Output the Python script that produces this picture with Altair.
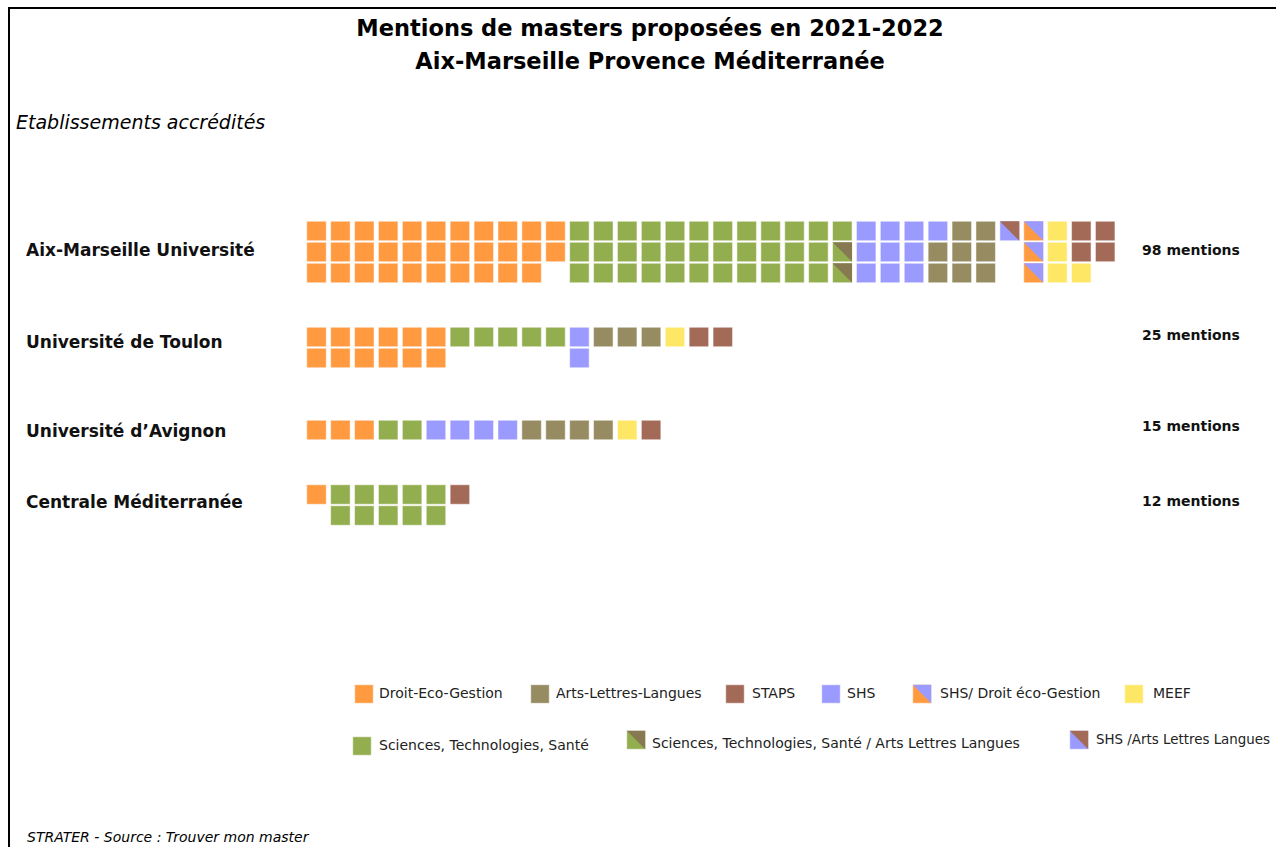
import altair as alt
import pandas as pd

W, H = 1276, 847

# ---------------- data ----------------
TITLE_LINES = ["Mentions de masters proposées en 2021-2022",
               "Aix-Marseille Provence Méditerranée"]
SUBTITLE = "Etablissements accrédités"
FOOTER = "STRATER - Source : Trouver mon master"

INSTITUTIONS = ["Aix-Marseille Université", "Université de Toulon",
                "Université d’Avignon", "Centrale Méditerranée"]
MENTIONS = [98, 25, 15, 12]

# each string = one column of the waffle, top to bottom ('.' = empty)
AMU_COLUMNS = (["DDD"] * 10 + ["DD."] + ["SSS"] * 11 + ["SXX"] + ["HHH"] * 3
               + ["HAA", "AAA", "AAA", "Z..", "QQQ", "MMM", "PPM", "PP."])
TOULON_COLUMNS = ["DD"] * 6 + ["S."] * 5 + ["HH"] + ["A."] * 3 + ["M.", "P.", "P."]
AVIGNON_COLUMNS = ["D", "D", "D", "S", "S", "H", "H", "H", "H", "A", "A", "A", "A", "M", "P"]
CENTRALE_COLUMNS = ["D.", "SS", "SS", "SS", "SS", "SS", "P."]
COLUMNS = [AMU_COLUMNS, TOULON_COLUMNS, AVIGNON_COLUMNS, CENTRALE_COLUMNS]

CODES = ["D", "A", "P", "H", "Q", "M", "S", "X", "Z"]
CATEGORY_LABELS = ["Droit-Eco-Gestion", "Arts-Lettres-Langues", "STAPS", "SHS",
                   "SHS/ Droit éco-Gestion", "MEEF",
                   "Sciences, Technologies, Santé",
                   "Sciences, Technologies, Santé /  Arts Lettres Langues",
                   "SHS /Arts Lettres Langues"]

# ---------------- styles ----------------
ORANGE, OLIVE, BROWN, BLUE = "#FF9A40", "#968B61", "#A36A58", "#9B9BFF"
YELLOW, GREEN, DARK_OLIVE = "#FFE766", "#93AE4E", "#877A52"
LOWER = [ORANGE, OLIVE, BROWN, BLUE, ORANGE, YELLOW, GREEN, GREEN, BLUE]
UPPER = [ORANGE, OLIVE, BROWN, BLUE, BLUE, YELLOW, GREEN, DARK_OLIVE, BROWN]
FONT = "DejaVu Sans"
TEXT_COLOR = "#111111"

# ---------------- layout ----------------
X0, XS = 316.5, 23.9      # pixel centre of column 0, column step
Y0, YS = 231.0, 21.0      # pixel centre of row 0, row step
ROW_BASE_PX = [231, 337, 430, 494.5]
LABEL_X = 26
LABEL_Y = [251, 343, 432, 503]
MENT_X = 1191
MENT_Y = [251, 336, 427, 502]
LEG_SWATCH_X = [364, 540, 735, 831, 922, 1134, 362, 636, 1079]
LEG_SWATCH_Y = [694, 694, 694, 694, 694, 694, 746, 740, 740]
LEG_TEXT_X = [379, 556, 752, 847, 940, 1153, 379, 652, 1096]
LEG_TEXT_Y = [694, 694, 694, 694, 694, 694, 746, 744, 740]
LEG_FONT_SIZE = [14, 14, 14, 14, 14, 14, 14, 14, 13.4]
CELL_SIZE = 380
SWATCH_SIZE = 342


def ux(px):
    return (px - X0) / XS


def uy(py):
    return (py - Y0) / YS


XSCALE = alt.Scale(domain=[ux(0), ux(W)], range=[0, W], nice=False, zero=False)
YSCALE = alt.Scale(domain=[uy(0), uy(H)], range=[0, H], nice=False, zero=False)

cells = []
for i, cols in enumerate(COLUMNS):
    base = uy(ROW_BASE_PX[i])
    for c, col in enumerate(cols):
        for r, code in enumerate(col):
            if code == ".":
                continue
            k = CODES.index(code)
            cells.append({"x": c, "y": base + r, "lower": LOWER[k],
                          "upper": UPPER[k], "size": CELL_SIZE})
for k in range(len(CODES)):
    cells.append({"x": ux(LEG_SWATCH_X[k]), "y": uy(LEG_SWATCH_Y[k]),
                  "lower": LOWER[k], "upper": UPPER[k], "size": SWATCH_SIZE})
cells_df = pd.DataFrame(cells)
split_df = cells_df[cells_df["lower"] != cells_df["upper"]]

X = lambda f: alt.X(f, type="quantitative", scale=XSCALE, axis=None)
Y = lambda f: alt.Y(f, type="quantitative", scale=YSCALE, axis=None)

squares = alt.Chart(cells_df).mark_point(
    shape="square", filled=True, opacity=1, stroke="white", strokeWidth=1,
    strokeOpacity=0.5
).encode(x=X("x"), y=Y("y"), fill=alt.Fill("lower:N", scale=None),
         size=alt.Size("size:Q", scale=None))

triangles = alt.Chart(split_df).mark_point(
    shape="M-1,-1L1,-1L1,1Z", filled=True, opacity=1, strokeWidth=0
).encode(x=X("x"), y=Y("y"), fill=alt.Fill("upper:N", scale=None),
         size=alt.Size("size:Q", scale=None))

inst_df = pd.DataFrame({"label": INSTITUTIONS,
                        "y": [uy(v) for v in LABEL_Y],
                        "m": [f"{n} mentions" for n in MENTIONS],
                        "my": [uy(v) for v in MENT_Y]})
inst_labels = alt.Chart(inst_df).mark_text(
    align="left", baseline="middle", font=FONT, fontSize=17, fontWeight="bold",
    color=TEXT_COLOR
).encode(x=alt.value(LABEL_X), y=Y("y"), text="label:N")
ment_labels = alt.Chart(inst_df).mark_text(
    align="center", baseline="middle", font=FONT, fontSize=14, fontWeight="bold",
    color=TEXT_COLOR
).encode(x=alt.value(MENT_X), y=Y("my"), text="m:N")

leg_df = pd.DataFrame({"t": CATEGORY_LABELS,
                       "x": [ux(v) for v in LEG_TEXT_X],
                       "y": [uy(v) for v in LEG_TEXT_Y],
                       "fs": LEG_FONT_SIZE})
leg_text = alt.Chart(leg_df).mark_text(
    align="left", baseline="middle", font=FONT, color="#222222"
).encode(x=X("x"), y=Y("y"), text="t:N", size=alt.Size("fs:Q", scale=None))

title_df = pd.DataFrame({"t": TITLE_LINES, "y": [uy(29), uy(62)]})
title = alt.Chart(title_df).mark_text(
    align="center", baseline="middle", font=FONT, fontSize=22.5, fontWeight="bold",
    color="black"
).encode(x=alt.value(650), y=Y("y"), text="t:N")

sub = alt.Chart(pd.DataFrame({"t": [SUBTITLE]})).mark_text(
    align="left", baseline="middle", font=FONT, fontSize=19, fontStyle="italic",
    color="black"
).encode(x=alt.value(16), y=alt.value(123), text="t:N")

foot = alt.Chart(pd.DataFrame({"t": [FOOTER]})).mark_text(
    align="left", baseline="middle", font=FONT, fontSize=14, fontStyle="italic",
    color="black"
).encode(x=alt.value(27), y=alt.value(838), text="t:N")

frame = alt.Chart(pd.DataFrame({"a": [0]})).mark_rect(
    filled=False, stroke="black", strokeWidth=2
).encode(x=alt.value(9), x2=alt.value(W + 40), y=alt.value(8), y2=alt.value(H + 40))

chart = alt.layer(frame, squares, triangles, inst_labels, ment_labels, leg_text,
                  title, sub, foot).properties(
    width=W, height=H, autosize=alt.AutoSizeParams(type="none"), padding=0,
    background="white"
).configure_view(strokeWidth=0)

chart.save("out.html", embed_options={"renderer": "svg", "actions": False})
